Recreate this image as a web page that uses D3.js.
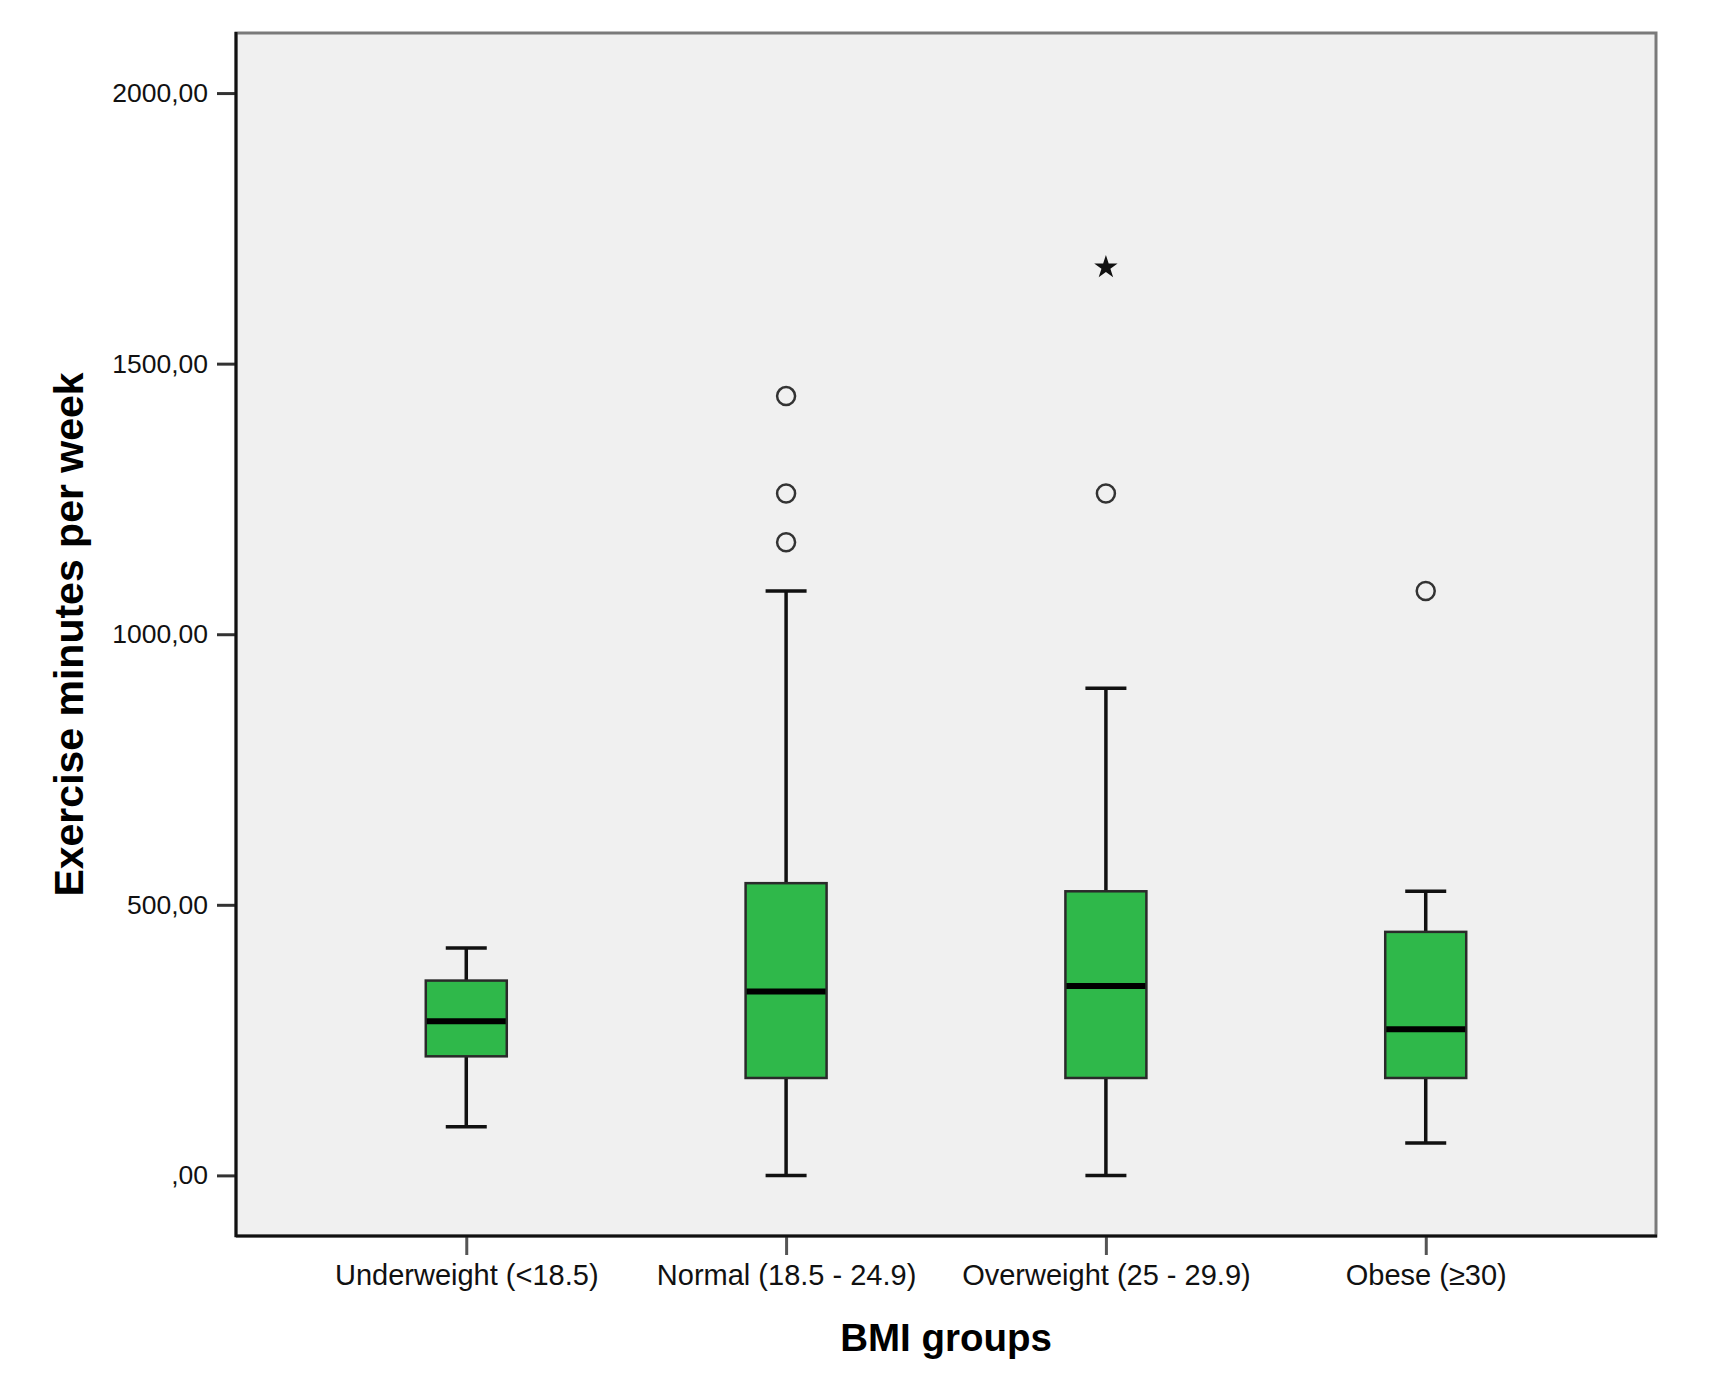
<!DOCTYPE html>
<html>
<head>
<meta charset="utf-8">
<script src="https://cdn.jsdelivr.net/npm/d3@7"></script>
<style>
  body { margin: 0; background: #fff; }
  text { font-family: "Liberation Sans", Arial, sans-serif; }
</style>
</head>
<body>
<div data-d3="boxplot"></div>
<script>
// values
const groups = ['Underweight (<18.5)', 'Normal (18.5 - 24.9)', 'Overweight (25 - 29.9)', 'Obese (\u226530)']
const whiskerLow = [90, 0, 0, 60]
const q1 = [220, 180, 180, 180]
const median = [285, 340, 350, 270]
const q3 = [360, 540, 525, 450]
const whiskerHigh = [420, 1080, 900, 525]
const outliers = [[], [1440, 1260, 1170], [1260], [1080]]
const extremes = [[], [], [1680], []]
const yTicks = [0, 500, 1000, 1500, 2000]

const width = 1719
const height = 1385
const frame = {left: 236, top: 33, right: 1656, bottom: 1236}

const x = d3.scalePoint().domain(groups).range([frame.left, frame.right]).padding(0.72)
const y = d3.scaleLinear().domain([-112, 2111]).range([frame.bottom, frame.top])
const fmt = v => v === 0 ? ',00' : d3.format('d')(v) + ',00'

const svg = d3.select('[data-d3="boxplot"]').append('svg')
  .attr('width', width)
  .attr('height', height)

svg.append('rect')
  .attr('x', frame.left).attr('y', frame.top)
  .attr('width', frame.right - frame.left).attr('height', frame.bottom - frame.top)
  .attr('fill', '#f0f0f0')
  .attr('stroke', '#7a7a7a')
  .attr('stroke-width', 3)

// y axis
const yAxis = svg.append('g')
  .attr('transform', `translate(${frame.left},0)`)
  .call(d3.axisLeft(y).tickValues(yTicks).tickFormat(fmt).tickSize(19).tickPadding(9))
yAxis.select('.domain').remove()
yAxis.selectAll('.tick line').attr('stroke', '#333').attr('stroke-width', 3)
yAxis.selectAll('.tick text').attr('font-size', 26.5).attr('fill', '#111')

// x axis
const xAxis = svg.append('g')
  .attr('transform', `translate(0,${frame.bottom})`)
  .call(d3.axisBottom(x).tickSize(19).tickPadding(9))
xAxis.select('.domain').remove()
xAxis.selectAll('.tick line').attr('stroke', '#555').attr('stroke-width', 3)
xAxis.selectAll('.tick text').attr('font-size', 29).attr('fill', '#111')

svg.append('line')
  .attr('x1', frame.left).attr('x2', frame.left)
  .attr('y1', frame.top - 1).attr('y2', frame.bottom + 1)
  .attr('stroke', '#111').attr('stroke-width', 3)
svg.append('line')
  .attr('x1', frame.left).attr('x2', frame.right + 1)
  .attr('y1', frame.bottom).attr('y2', frame.bottom)
  .attr('stroke', '#111').attr('stroke-width', 3)

// boxes
const boxW = 81
const capW = 41
const box = svg.append('g').selectAll('g').data(groups).enter().append('g')

box.append('line')
  .attr('x1', d => x(d)).attr('x2', d => x(d))
  .attr('y1', (d, i) => y(whiskerLow[i])).attr('y2', (d, i) => y(whiskerHigh[i]))
  .attr('stroke', '#111').attr('stroke-width', 3.5)
box.selectAll('.cap').data((d, i) => [whiskerLow[i], whiskerHigh[i]].map(v => ({g: d, v}))).enter()
  .append('line')
  .attr('class', 'cap')
  .attr('x1', c => x(c.g) - capW / 2).attr('x2', c => x(c.g) + capW / 2)
  .attr('y1', c => y(c.v)).attr('y2', c => y(c.v))
  .attr('stroke', '#111').attr('stroke-width', 3.5)
box.append('rect')
  .attr('x', d => x(d) - boxW / 2)
  .attr('y', (d, i) => y(q3[i]))
  .attr('width', boxW)
  .attr('height', (d, i) => y(q1[i]) - y(q3[i]))
  .attr('fill', '#2fb84a')
  .attr('stroke', '#2a2a2a')
  .attr('stroke-width', 2.5)
box.append('line')
  .attr('x1', d => x(d) - boxW / 2 + 1).attr('x2', d => x(d) + boxW / 2 - 1)
  .attr('y1', (d, i) => y(median[i])).attr('y2', (d, i) => y(median[i]))
  .attr('stroke', '#000').attr('stroke-width', 6)

// outliers and extremes
box.selectAll('circle').data((d, i) => outliers[i].map(v => ({g: d, v}))).enter()
  .append('circle')
  .attr('cx', o => x(o.g)).attr('cy', o => y(o.v))
  .attr('r', 9)
  .attr('fill', 'none')
  .attr('stroke', '#333')
  .attr('stroke-width', 2.5)
box.selectAll('.star').data((d, i) => extremes[i].map(v => ({g: d, v}))).enter()
  .append('path')
  .attr('class', 'star')
  .attr('d', d3.symbol(d3.symbolStar, 170))
  .attr('transform', o => `translate(${x(o.g)},${y(o.v) + 1})`)
  .attr('fill', '#111')

// axis titles
svg.append('text')
  .attr('x', (frame.left + frame.right) / 2)
  .attr('y', 1351)
  .attr('text-anchor', 'middle')
  .attr('font-size', 38.5)
  .attr('font-weight', 'bold')
  .attr('fill', '#000')
  .text('BMI groups')
svg.append('text')
  .attr('transform', `translate(83,${(frame.top + frame.bottom) / 2}) rotate(-90)`)
  .attr('text-anchor', 'middle')
  .attr('font-size', 41)
  .attr('font-weight', 'bold')
  .attr('fill', '#000')
  .text('Exercise minutes per week')
</script>
</body>
</html>
